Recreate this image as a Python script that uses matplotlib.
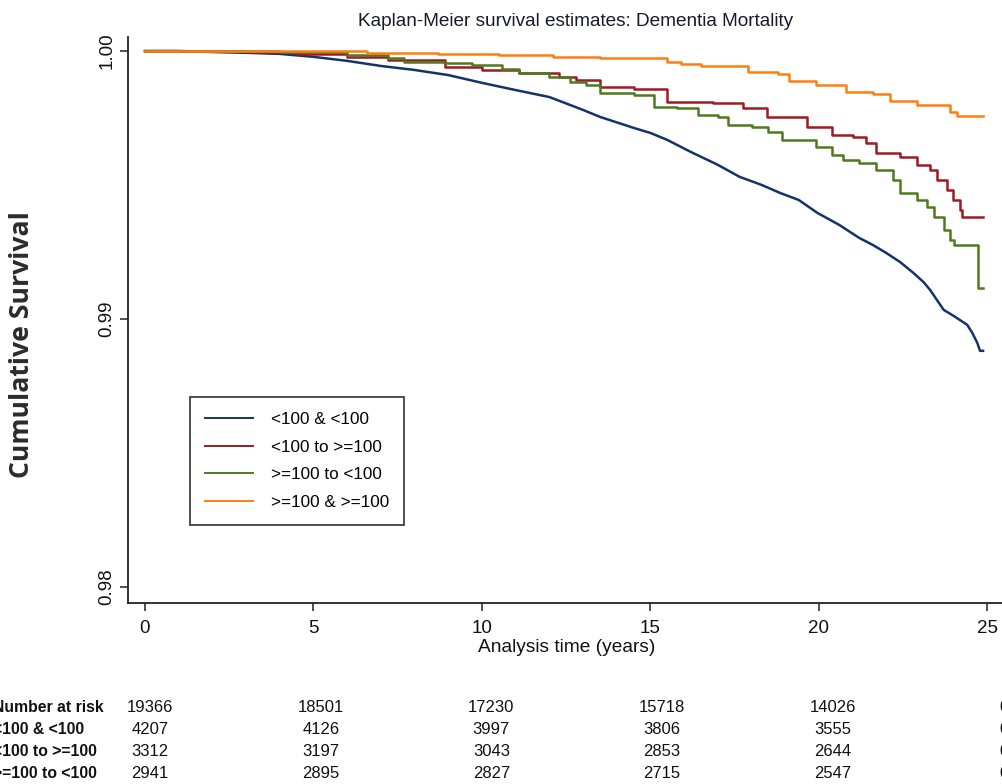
import matplotlib
matplotlib.use('Agg')
import matplotlib.pyplot as plt

# Kaplan-Meier step estimates
t_a = [0, 1, 2, 3, 4, 5, 6, 7, 8, 9, 10, 11, 12, 13, 13.5, 14.5, 15, 15.5, 16.2, 17,
       17.65, 18.3, 18.85, 19.4, 19.95, 20.6, 21.2, 21.6, 22.0, 22.4, 22.8, 23.1, 23.3,
       23.5, 23.7, 24.0, 24.4, 24.55, 24.7, 24.78, 24.87]
s_a = [1.0, 1.0, 0.99996, 0.99993, 0.99989, 0.99978, 0.99963, 0.99944, 0.99929, 0.99910,
       0.99881, 0.99854, 0.99828, 0.99780, 0.99754, 0.99713, 0.99694, 0.99668, 0.99623,
       0.99575, 0.99530, 0.99500, 0.99470, 0.99444, 0.99396, 0.99351, 0.99302, 0.99276,
       0.99246, 0.99213, 0.99172, 0.99138, 0.99108, 0.99071, 0.99034, 0.99011, 0.98978,
       0.98948, 0.98910, 0.98881, 0.98881]

t_b = [0, 3.0, 4.5, 6.0, 7.2, 8.9, 10.0, 11.1, 12.3, 12.8, 13.5, 14.5, 15.5, 16.85,
       17.75, 18.45, 19.65, 20.4, 21.0, 21.4, 21.7, 22.4, 22.9, 23.3, 23.5, 23.8, 23.98,
       24.2, 24.25, 24.87]
s_b = [1.0, 0.99996, 0.99989, 0.99978, 0.99966, 0.99940, 0.99929, 0.99918, 0.99903,
       0.99892, 0.99866, 0.99858, 0.99810, 0.99806, 0.99787, 0.99754, 0.99716, 0.99687,
       0.99679, 0.99657, 0.99619, 0.99604, 0.99575, 0.99556, 0.99519, 0.99481, 0.99444,
       0.99407, 0.99381, 0.99381]

t_c = [0, 4.0, 6.0, 7.2, 7.7, 8.9, 9.7, 10.6, 11.1, 12.0, 12.6, 13.1, 13.5, 14.5, 15.1,
       15.8, 16.4, 17.0, 17.3, 18.0, 18.5, 18.9, 19.9, 20.4, 20.7, 21.2, 21.7, 22.2, 22.4,
       22.9, 23.2, 23.4, 23.7, 23.9, 24.0, 24.72, 24.87]
s_c = [1.0, 0.99996, 0.99985, 0.99974, 0.99959, 0.99955, 0.99948, 0.99933, 0.99918,
       0.99903, 0.99884, 0.99873, 0.99843, 0.99836, 0.99791, 0.99787, 0.99761, 0.99754,
       0.99724, 0.99716, 0.99698, 0.99668, 0.99642, 0.99612, 0.99593, 0.99582, 0.99556,
       0.99519, 0.99470, 0.99444, 0.99418, 0.99381, 0.99332, 0.99295, 0.99276, 0.99116,
       0.99116]

t_d = [0, 6.6, 8.7, 10.5, 12.1, 13.5, 15.5, 15.9, 16.5, 17.9, 18.8, 19.1, 19.9, 20.8,
       21.6, 22.1, 22.9, 23.9, 24.1, 24.87]
s_d = [1.0, 0.99994, 0.99989, 0.99983, 0.99978, 0.99974, 0.99959, 0.99951, 0.99944,
       0.99922, 0.99914, 0.99888, 0.99873, 0.99847, 0.99840, 0.99813, 0.99799, 0.99772,
       0.99757, 0.99757]

groups = ['<100 & <100', '<100 to >=100', '>=100 to <100', '>=100 & >=100']
colors = ['#14336a', '#9e1b24', '#4f7a1e', '#ff7f0e']
# the big group has many tiny steps, so it reads as a smooth line
styles = ['default', 'steps-post', 'steps-post', 'steps-post']

risk_labels = ['Number at risk', '<100 & <100', '<100 to >=100', '>=100 to <100']
risk_total = [19366, 18501, 17230, 15718, 14026, 0]
risk_a = [4207, 4126, 3997, 3806, 3555, 0]
risk_b = [3312, 3197, 3043, 2853, 2644, 0]
risk_c = [2941, 2895, 2827, 2715, 2547, 0]

W, H = 1002, 784
fig = plt.figure(figsize=(W / 100, H / 100), dpi=100)
plt.rcParams['font.family'] = ['Liberation Sans', 'DejaVu Sans']

ax = fig.add_axes([128 / W, 1 - 603 / H, 910 / W, 566 / H])
for t, s, c, g, ds in zip([t_a, t_b, t_c, t_d], [s_a, s_b, s_c, s_d], colors, groups, styles):
    ax.plot(t, s, drawstyle=ds, color=c, lw=1.8, label=g)

ax.set_xlim(-0.5, 26.5)
ax.set_ylim(0.97940, 1.00052)
ax.spines['top'].set_visible(False)
ax.spines['right'].set_visible(False)
for sp in ['left', 'bottom']:
    ax.spines[sp].set_linewidth(1.3)
    ax.spines[sp].set_color('#222222')

ax.set_xticks([0, 5, 10, 15, 20, 25])
ax.set_yticks([0.98, 0.99, 1.00])
ax.set_yticklabels(['0.98', '0.99', '1.00'], rotation=90, va='center')
ax.tick_params(axis='both', length=6, width=1.1, color='#222222', labelsize=13.5,
               labelcolor='#111111')
ax.tick_params(axis='y', pad=3)
ax.tick_params(axis='x', pad=6)

leg = ax.legend(loc='upper left', bbox_to_anchor=(190 / W, 1 - 397 / H),
                bbox_transform=fig.transFigure, borderaxespad=0, fontsize=12.3,
                frameon=True, fancybox=False, edgecolor='#111111',
                handlelength=2.8, handletextpad=1.05, labelspacing=0.74,
                borderpad=0.88)
leg.get_frame().set_linewidth(1.3)
for ln in leg.get_lines():
    ln.set_linewidth(1.4)

fig.text(576 / W, 1 - 22 / H, 'Kaplan-Meier survival estimates: Dementia Mortality',
         ha='center', va='center', fontsize=13.7, color='#1a1a2e')
fig.text(567 / W, 1 - 648 / H, 'Analysis time (years)', ha='center', va='center',
         fontsize=13.8, color='#111111')
fig.text(22 / W, 1 - 345 / H, 'Cumulative Survival', rotation=90, ha='center',
         va='center', fontsize=19.2, fontweight='bold', family='Open Sans', color='#2b2b2b')

# number-at-risk table under the plot
row_y = [708, 730, 752, 774]
col_x = [150 + 170.7 * k for k in range(6)]
for lab, vals, y in zip(risk_labels, [risk_total, risk_a, risk_b, risk_c], row_y):
    fig.text(-7 / W, 1 - y / H, lab, ha='left', va='center', fontsize=11.3,
             fontweight='bold', color='#111111')
    for x, v in zip(col_x, vals):
        fig.text(x / W, 1 - y / H, str(v), ha='center', va='center', fontsize=12,
                 color='#111111')

fig.savefig('out.png', dpi=100)
